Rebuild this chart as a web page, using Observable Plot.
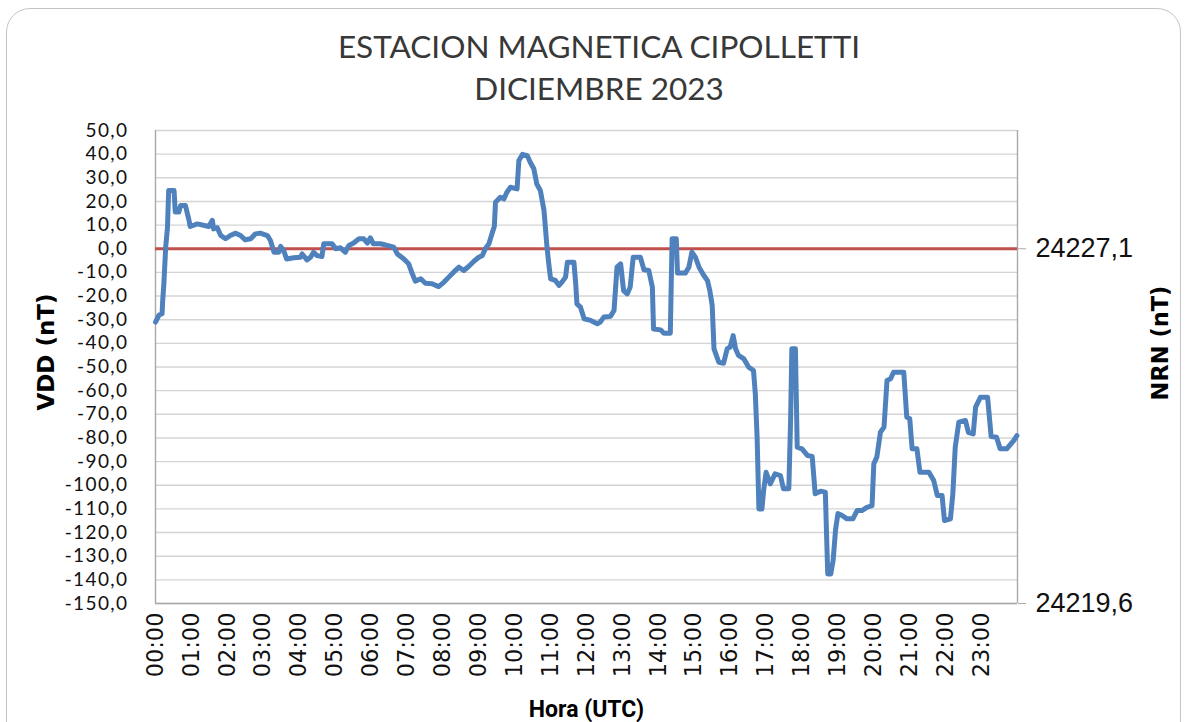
<!DOCTYPE html>
<html>
<head>
<meta charset="utf-8">
<script src="https://cdn.jsdelivr.net/npm/d3@7"></script>
<script src="https://cdn.jsdelivr.net/npm/@observablehq/plot@0.6"></script>
<style>
  html, body { margin: 0; padding: 0; background: #ffffff; }
  #wrap { position: relative; width: 1186px; height: 722px; overflow: hidden; background: #fff; }
  #box { position: absolute; left: 6px; top: 8px; width: 1175px; height: 740px; border: 1.5px solid #c4c4c4; border-radius: 24px; box-sizing: border-box; }
  .t { position: absolute; left: 0; width: 1198px; text-align: center; font-family: Lato, "Open Sans", sans-serif; font-size: 31.5px; line-height: 32px; color: #383838; white-space: nowrap; }
  #chart { position: absolute; left: 0; top: 115px; }
  .ytl text { letter-spacing: 1.4px; }
</style>
</head>
<body>
<div id="wrap">
  <div id="box"></div>
  <div class="t" id="t1" style="top:30px">ESTACION MAGNETICA CIPOLLETTI</div>
  <div class="t" id="t2" style="top:72px">DICIEMBRE 2023</div>
  <div id="chart"></div>
</div>
<script>
// Hora (minutos desde 00:00 UTC)
const minutos = [
  0,6,11,12,14,17,20,22,31,33,
  39,42,50,56,58,70,89,95,97,103,
  109,117,125,134,142,150,159,167,175,187,
  192,198,206,209,214,219,231,242,245,253,
  259,264,270,278,281,295,301,309,317,323,
  331,340,348,354,359,364,376,387,398,404,
  415,423,429,434,443,451,462,473,482,490,
  498,507,515,523,532,540,546,551,557,562,
  566,568,576,582,587,593,604,607,613,621,
  626,632,637,643,649,654,657,660,668,674,
  679,685,688,699,702,704,710,716,727,738,
  743,749,760,766,771,777,782,788,793,798,
  810,816,824,830,832,844,849,860,863,870,
  872,885,891,896,902,908,916,922,926,930,
  933,941,949,955,960,965,969,974,983,991,
  999,1002,1005,1008,1013,1016,1020,1027,1035,1044,
  1049,1058,1061,1063,1069,1072,1080,1089,1097,1102,
  1111,1119,1121,1123,1128,1132,1136,1140,1147,1155,
  1165,1172,1180,1189,1197,1200,1205,1211,1217,1222,
  1228,1233,1250,1255,1260,1264,1272,1277,1292,1300,
  1306,1314,1318,1328,1332,1336,1342,1353,1358,1366,
  1370,1378,1390,1396,1405,1411,1422,1434,1439
];
// VDD (nT)
const vdd = [
  -31,-28,-27.5,-22,-14.7,0.6,9,24.6,24.6,15.5,
  15.5,18.3,18.3,12,9.4,10.5,9.4,12,8.4,9,
  5.6,4.2,5.6,6.6,5.6,3.8,4.2,6.3,6.6,5.6,
  3.5,-1.5,-1.5,1,-0.7,-4.3,-3.8,-3.6,-2.2,-4.7,
  -3.6,-1.5,-2.9,-3.3,2.1,2.1,0,0.4,-1.5,1.4,
  2.4,4.2,4.2,2.4,4.6,2.1,2.1,1.4,0.7,-2.2,
  -4.3,-6.4,-10.6,-13.7,-12.7,-14.6,-14.8,-16,-14.1,-12,
  -9.9,-7.8,-9.2,-7.5,-5.3,-3.6,-2.9,0,2.1,6.3,
  9.4,19.7,21.8,21.1,23.9,26,25.3,37.3,39.9,39.4,
  36.6,33.8,27.4,24.6,16.2,0.7,-6.4,-12.7,-13.4,-15.5,
  -14.1,-12,-5.7,-5.7,-14.8,-23.3,-24.7,-29.6,-30.3,-31.7,
  -31,-28.9,-28.6,-26.1,-7.8,-6.4,-17.7,-19.1,-16.2,-3.6,
  -3.6,-8.9,-9.2,-16.2,-33.9,-34.3,-35.7,-35.7,4.2,4.2,
  -10.3,-10.3,-7.8,-1.5,-3.6,-7.8,-11.3,-13.4,-17.7,-24,
  -42.3,-48,-48.4,-42.3,-41.6,-36.7,-42.3,-45.1,-46.6,-50.1,
  -51.5,-61.3,-79.7,-110,-110,-102,-94.5,-99.4,-95.2,-95.9,
  -101.5,-101.5,-71.9,-42.3,-42.3,-83.9,-84.6,-87.4,-87.8,-103.6,
  -102.5,-102.9,-120.5,-137.5,-137.5,-131.8,-119,-112,-112.8,-114.2,
  -114.2,-110.7,-110.7,-109.3,-108.6,-90.9,-88.1,-77.6,-75.4,-55.7,
  -55,-52.2,-52.2,-71.2,-71.9,-84.6,-84.6,-94.5,-94.5,-98,
  -104.3,-104.3,-114.9,-114.2,-103.6,-83.9,-73.3,-72.6,-77.6,-78.3,
  -67,-62.8,-62.8,-79.4,-79.7,-84.6,-84.6,-81,-79
];
// Tick labels
const horaTicks = ["00:00","01:00","02:00","03:00","04:00","05:00","06:00","07:00","08:00","09:00","10:00","11:00",
                   "12:00","13:00","14:00","15:00","16:00","17:00","18:00","19:00","20:00","21:00","22:00","23:00"];
const vddTicks = [50,40,30,20,10,0,-10,-20,-30,-40,-50,-60,-70,-80,-90,-100,-110,-120,-130,-140,-150];
const nrnTicks = [0, -150];
const nrnLabels = ["24227,1", "24219,6"];
const referencia = [0];

const data = minutos.map((m, i) => ({m, v: vdd[i]}));
const hourPos = horaTicks.map((_, i) => i * 60);

const chart = Plot.plot({
  width: 1186,
  height: 607,
  marginTop: 15,
  marginBottom: 119,
  marginLeft: 155,
  marginRight: 169,
  style: {background: "transparent", overflow: "visible", color: "#111"},
  x: {domain: [0, 1440], axis: null},
  y: {domain: [-150, 50], axis: null},
  marks: [
    Plot.gridY(vddTicks, {stroke: "#d4d4d4", strokeOpacity: 1, strokeWidth: 1.4}),
    Plot.ruleX([0, 1440], {stroke: "#a9a9a9", strokeWidth: 1.4}),
    Plot.ruleY([-150], {stroke: "#a9a9a9", strokeWidth: 1.4}),
    Plot.axisY({anchor: "left", ticks: vddTicks, tickSize: 0, tickPadding: 27,
      tickFormat: d => d.toFixed(1).replace(".", ","), label: null, className: "ytl",
      fontSize: 19, fontFamily: "Lato, sans-serif", fill: "#111"}),
    Plot.axisY({anchor: "right", ticks: nrnTicks, tickSize: 8, tickPadding: 10,
      stroke: "#a9a9a9", tickFormat: d => nrnLabels[nrnTicks.indexOf(d)], label: null,
      fontSize: 27, fontFamily: "Liberation Sans, Arial, sans-serif", fill: "#111"}),
    Plot.axisX({anchor: "bottom", ticks: hourPos, tickSize: 0, tickPadding: 9, tickRotate: -90,
      tickFormat: d => horaTicks[d / 60], label: null,
      fontSize: 22.5, fontFamily: "DejaVu Sans, sans-serif", fill: "#111"}),
    Plot.ruleY(referencia, {stroke: "#c0504d", strokeWidth: 3.2}),
    Plot.line(data, {x: "m", y: "v", stroke: "#4f81bd", strokeWidth: 5,
      strokeLinejoin: "round", strokeLinecap: "round"}),
    Plot.text(["VDD (nT)"], {frameAnchor: "left", dx: -109, dy: -15, rotate: -90,
      textAnchor: "middle", lineAnchor: "middle",
      fontSize: 23, fontWeight: "bold", fontFamily: "DejaVu Sans, sans-serif", fill: "#000"}),
    Plot.text(["NRN (nT)"], {frameAnchor: "right", dx: 143, dy: -24, rotate: -90,
      textAnchor: "middle", lineAnchor: "middle",
      fontSize: 22.5, fontWeight: "bold", fontFamily: "DejaVu Sans, sans-serif", fill: "#000"}),
    Plot.text(["Hora (UTC)"], {frameAnchor: "bottom", dy: 106, textAnchor: "middle", lineAnchor: "middle",
      fontSize: 23, fontWeight: "bold", fontFamily: "Roboto, sans-serif", fill: "#000"})
  ]
});
document.getElementById("chart").appendChild(chart);
</script>
</body>
</html>
